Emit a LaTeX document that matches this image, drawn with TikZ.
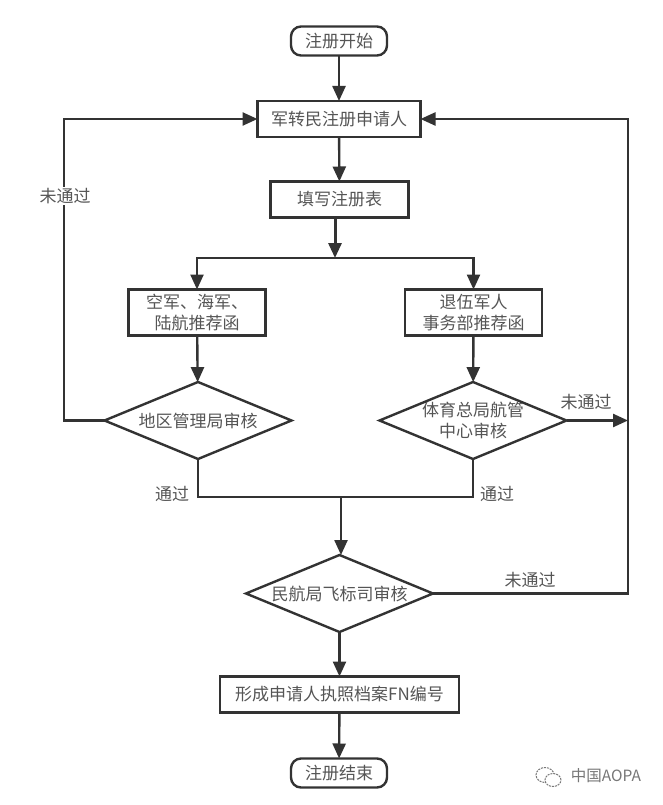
\documentclass[tikz,border=0pt]{standalone}
\usepackage{fontspec}
\setmainfont{Noto Sans CJK SC}
\usetikzlibrary{shapes.geometric,arrows.meta}
\definecolor{ln}{HTML}{333333}
\definecolor{tx}{HTML}{555555}
\definecolor{wm}{HTML}{777777}
\tikzset{
  x=1pt,y=-1pt,
  every node/.style={font=\fontsize{17}{21}\selectfont,text=tx,align=center,inner sep=0pt,outer sep=0pt},
  boxn/.style={draw=ln,line width=2.6pt,fill=white,minimum width=#1,minimum height=36pt},
  twoline/.style={draw=ln,line width=2.4pt,fill=white,minimum width=137pt,minimum height=46pt},
  termn/.style={draw=ln,line width=2.4pt,fill=white,rounded corners=10pt,minimum width=96pt,minimum height=29pt},
  dia/.style={draw=ln,line width=2.4pt,fill=white,diamond,aspect=2.4,inner sep=-14pt,minimum width=187pt,minimum height=77pt},
  flow/.style={draw=ln,line width=2.4pt,-{Triangle[length=15pt,width=13pt]}},
  plain/.style={draw=ln,line width=2.4pt},
  lab/.style={fill=white,inner sep=1pt}
}
\begin{document}
\begin{tikzpicture}
\useasboundingbox (0,0) rectangle (662,805);
\fill[white] (0,0) rectangle (662,805);
\node[termn] (start) at (339,41) {注册开始};
\node[boxn=163pt] (apply) at (339,119) {军转民注册申请人};
\node[boxn=138pt] (form) at (339.5,199.5) {填写注册表};
\node[twoline] (lbox) at (197,312.5) {空军、海军、\\陆航推荐函};
\node[twoline] (rbox) at (473.5,312.5) {退伍军人\\事务部推荐函};
\node[dia] (dl) at (198,420.5) {地区管理局审核};
\node[dia] (dr) at (473,420.5) {体育总局航管\\中心审核};
\node[dia] (dc) at (339.5,593.5) {民航局飞标司审核};
\node[boxn=239pt] (fn) at (339.5,694.5) {形成申请人执照档案FN编号};
\node[termn] (finish) at (339,773) {注册结束};

\coordinate (formout) at (335,218);
\coordinate (split) at (335,258);
\coordinate (pass) at (341,497);
\coordinate (rtop) at (628,119);
\coordinate (rmid) at (628,420.5);
\coordinate (rbot) at (628,593.5);
\coordinate (ltop) at (64,119);
\coordinate (lbot) at (64,420.5);

\draw[flow] (start) -- (apply);
\draw[flow] (apply) -- (form);
\draw[flow,line width=3pt] (formout) -- (split);
\draw[flow] (split) -| (lbox.north);
\draw[flow] (split) -| (rbox.north);
\draw[flow] (lbox) -- (dl);
\draw[flow] (rbox) -- (dr);
\draw[plain] (dl.south) |- (pass);
\draw[plain] (dr.south) |- (pass);
\draw[flow] (pass) -- (pass |- dc.north);
\draw[flow] (dc) -- (fn);
\draw[flow] (fn) -- (finish);
\draw[flow] (dl.west) -- (lbot) -- (ltop) -- (apply.west);
\draw[flow] (dc.east) -- (rbot) -- (rtop) -- (apply.east);
\draw[flow] (dr.east) -- (rmid);

\node[lab] (nl) at (65,196) {未通过};
\node[lab] (nr) at (586,402) {未通过};
\node[lab] (nc) at (530,580) {未通过};
\node[lab] (pl) at (172,494) {通过};
\node[lab] (pr) at (497,494) {通过};

% watermark
\draw[wm,line width=1pt,dash pattern=on 2pt off 1pt] (545,775) ellipse (9pt and 7.5pt);
\draw[wm,line width=1pt,dash pattern=on 2pt off 1pt,fill=white] (553,780) ellipse (8pt and 6.5pt);
\node[font=\fontsize{15.5}{18}\selectfont,text=wm] (mark) at (606,776) {中国AOPA};
\end{tikzpicture}
\end{document}
